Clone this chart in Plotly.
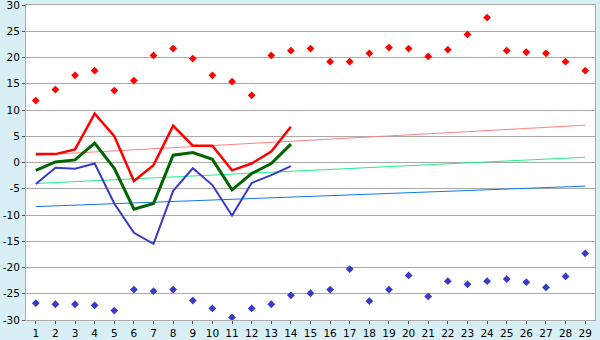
import plotly.graph_objects as go

days = list(range(1, 30))
rec_max = [11.8, 13.9, 16.6, 17.5, 13.7, 15.6, 20.4, 21.7, 19.8, 16.6, 15.4, 12.8, 20.4, 21.3,
           21.7, 19.2, 19.2, 20.8, 21.9, 21.7, 20.2, 21.5, 24.4, 27.6, 21.3, 21.0, 20.8, 19.2, 17.5]
rec_min = [-26.8, -27.0, -27.0, -27.2, -28.2, -24.2, -24.5, -24.2, -26.3, -27.8, -29.5, -27.8, -27.0, -25.3,
           -24.9, -24.2, -20.3, -26.4, -24.2, -21.5, -25.5, -22.6, -23.2, -22.6, -22.2, -22.8, -23.8, -21.7, -17.3]
obs_days = list(range(1, 15))
t_max = [1.6, 1.6, 2.5, 9.3, 5.0, -3.5, -0.5, 7.0, 3.2, 3.2, -1.5, -0.2, 2.1, 6.8]
t_mean = [-1.5, 0.1, 0.5, 3.7, -1.1, -8.9, -7.8, 1.4, 1.9, 0.6, -5.2, -2.1, -0.2, 3.5]
t_min = [-4.1, -1.0, -1.2, -0.2, -7.8, -13.4, -15.5, -5.4, -1.1, -4.3, -10.1, -3.9, -2.4, -0.7]
trend_days = [1, 29]
trend_max = [1.4, 7.1]
trend_mean = [-4.0, 1.0]
trend_min = [-8.4, -4.5]
y_ticks = [-30, -25, -20, -15, -10, -5, 0, 5, 10, 15, 20, 25, 30]
y_labels = ["-30", "-25", "-20", "-15", "-10", "-5", "0", "5", "10", "15", "20", "25", "30"]

fig = go.Figure()
fig.add_trace(go.Scatter(x=trend_days, y=trend_max, mode="lines", line=dict(color="#FF8080", width=1)))
fig.add_trace(go.Scatter(x=trend_days, y=trend_mean, mode="lines", line=dict(color="#22EE88", width=1)))
fig.add_trace(go.Scatter(x=trend_days, y=trend_min, mode="lines", line=dict(color="#1177EE", width=1)))
fig.add_trace(go.Scatter(x=obs_days, y=t_min, mode="lines", line=dict(color="#3A3AC8", width=2)))
fig.add_trace(go.Scatter(x=obs_days, y=t_mean, mode="lines", line=dict(color="#006400", width=3)))
fig.add_trace(go.Scatter(x=obs_days, y=t_max, mode="lines", line=dict(color="#FF0000", width=2.5)))
fig.add_trace(go.Scatter(x=days, y=rec_max, mode="markers",
                         marker=dict(symbol="diamond", size=6, color="#FF0000")))
fig.add_trace(go.Scatter(x=days, y=rec_min, mode="markers",
                         marker=dict(symbol="diamond", size=6, color="#3A3AC8")))

fig.update_layout(
    width=600, height=340,
    margin=dict(l=26, r=5, t=5, b=20, autoexpand=False),
    paper_bgcolor="#D8EFF5", plot_bgcolor="#FFFFFF",
    showlegend=False,
    font=dict(family="DejaVu Sans", size=11, color="#000000"),
)
fig.update_xaxes(range=[0.5, 29.5], tickmode="array", tickvals=days, ticktext=[str(d) for d in days],
                 showgrid=False, zeroline=False, showline=True, linecolor="#AAAAAA", linewidth=1,
                 mirror=True, ticks="outside", ticklen=3, tickcolor="#555555", automargin=False,
                 tickfont=dict(size=10.5))
fig.update_yaxes(range=[-30, 30], tickmode="array", tickvals=y_ticks, ticktext=y_labels,
                 showgrid=True, gridcolor="#AAAAAA", gridwidth=1,
                 zeroline=False, showline=True, linecolor="#AAAAAA", linewidth=1, mirror=True,
                 ticks="outside", ticklen=3, tickcolor="#555555", ticklabeloverflow="allow",
                 automargin=False, tickfont=dict(size=10.5))

fig.write_html("out.html")
